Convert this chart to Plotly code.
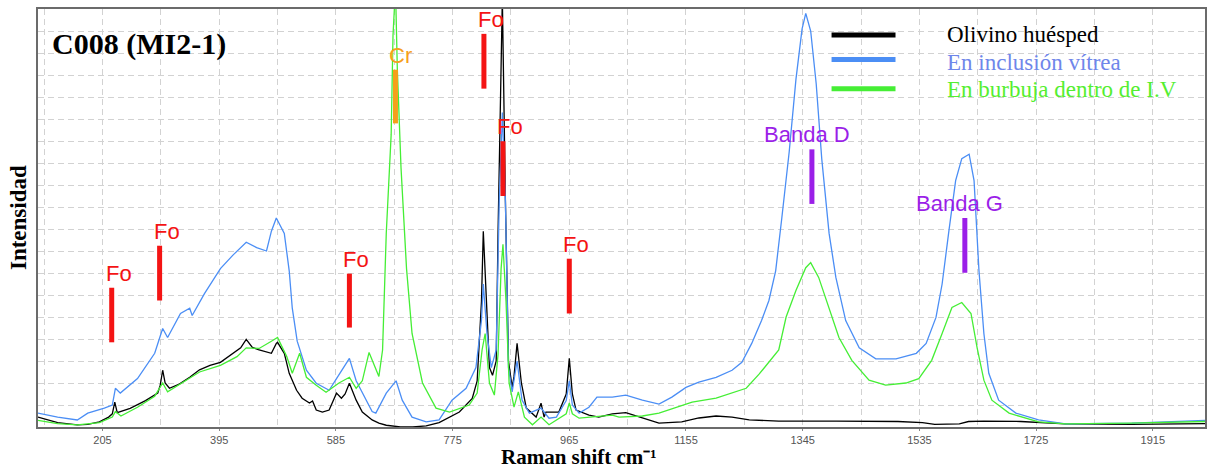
import plotly.graph_objects as go

# ---------------- data ----------------
wn_olivino = [100, 132, 164, 181, 200, 215, 221, 225, 229, 250, 275, 295, 299, 303, 307, 314, 330, 347,
              363, 380, 397, 417, 430, 439, 449, 460, 472, 480, 488, 490, 501, 509, 521, 530, 542, 547,
              553, 563, 574, 586, 594, 600, 607, 618, 628, 644, 655, 667, 690, 710, 732, 753, 786, 807,
              815, 822, 825, 830, 835, 840, 846, 849, 854, 856, 861, 866, 872, 875, 880, 887, 895, 911,
              919, 924, 927, 948, 960, 965, 970, 976, 997, 1013, 1035, 1046, 1057, 1084, 1111, 1148,
              1176, 1204, 1230, 1258, 1306, 1400, 1500, 1540, 1560, 1600, 1615, 1640, 1700, 1773, 1880, 2000]
int_olivino = [0.45, 0.2, 0.1, 0.12, 0.23, 0.45, 0.6, 1.13, 0.65, 0.85, 1.2, 1.54, 1.9, 2.58, 2.0, 1.76, 1.95, 2.26,
               2.6, 2.8, 2.94, 3.35, 3.6, 3.98, 3.62, 3.5, 3.39, 3.35, 3.8, 3.85, 3.35, 2.44, 1.67, 1.31, 1.09, 1.18,
               0.77, 0.68, 0.77, 1.54, 1.31, 1.5, 1.99, 1.22, 0.68, 0.32, 0.18, 0.08, 0.0, 0.0, 0.05, 0.2, 0.68, 1.3,
               2.1, 5.7, 8.9, 5.7, 2.7, 2.35, 3.0, 8.8, 16.3, 19.5, 10.3, 3.0, 1.8, 2.3, 3.8, 2.0, 0.86, 0.45,
               1.08, 0.45, 0.68, 0.68, 1.5, 3.12, 1.5, 0.77, 0.54, 0.45, 0.6, 0.63, 0.65, 0.41, 0.18, 0.23,
               0.41, 0.5, 0.45, 0.32, 0.27, 0.27, 0.25, 0.2, 0.12, 0.14, 0.25, 0.27, 0.25, 0.14, 0.12, 0.15]

wn_inclusion = [100, 132, 164, 181, 208, 221, 226, 234, 262, 290, 303, 311, 332, 347, 351, 371, 397, 417,
                439, 456, 472, 480, 488, 501, 509, 514, 522, 537, 553, 574, 586, 607, 618, 634, 644, 650,
                667, 683, 693, 709, 732, 753, 774, 797, 813, 822, 825, 831, 838, 846, 851, 856, 861, 866,
                872, 880, 888, 900, 919, 932, 944, 960, 965, 970, 981, 997, 1010, 1035, 1057, 1084, 1111,
                1132, 1155, 1176, 1204, 1230, 1246, 1262, 1278, 1290, 1301, 1311, 1323, 1334, 1344, 1350,
                1358, 1367, 1376, 1388, 1399, 1415, 1437, 1464, 1497, 1530, 1546, 1562, 1572, 1583, 1594,
                1604, 1616, 1624, 1632, 1640, 1648, 1664, 1692, 1729, 1773, 1881, 2000]
int_inclusion = [0.63, 0.45, 0.32, 0.63, 0.86, 1.0, 1.76, 1.54, 2.2, 3.35, 4.48, 4.07, 5.16, 5.4, 5.07, 6.06, 7.2, 7.8,
                 8.4, 8.15, 8.0, 8.9, 9.5, 8.8, 7.1, 5.4, 3.9, 2.58, 1.99, 1.67, 2.2, 3.12, 2.1, 1.22, 0.7, 0.63,
                 1.54, 2.1, 1.22, 0.45, 0.23, 0.32, 1.22, 1.76, 2.7, 4.84, 6.5, 4.25, 2.7, 3.5, 10.3, 14.3, 10.3, 2.7,
                 1.6, 3.0, 1.22, 0.63, 0.86, 0.4, 0.45, 1.2, 2.1, 1.0, 0.63, 0.9, 1.36, 1.36, 1.45, 1.22, 1.04,
                 1.36, 1.8, 2.04, 2.26, 2.58, 2.94, 3.8, 4.84, 5.75, 7.1, 9.5, 12.5, 15.8, 18.1, 18.8,
                 18.0, 15.6, 12.2, 8.8, 6.8, 4.84, 3.6, 3.1, 3.1, 3.35, 3.8, 4.98, 6.5, 8.9, 11.2,
                 12.2, 12.4, 11.2, 7.1, 4.25, 2.44, 1.22, 0.63, 0.32, 0.14, 0.18, 0.3]

wn_burbuja = [100, 132, 164, 200, 221, 226, 235, 262, 290, 303, 311, 347, 363, 397, 424, 439, 460, 480,
              490, 505, 514, 526, 537, 553, 569, 590, 607, 618, 628, 639, 655, 661, 667, 675, 678, 682,
              685, 691, 700, 709, 726, 748, 770, 802, 815, 823, 828, 835, 843, 849, 854, 857, 862, 867,
              875, 882, 892, 905, 919, 932, 944, 960, 965, 970, 981, 1035, 1046, 1084, 1111, 1139, 1165,
              1204, 1230, 1253, 1274, 1295, 1306, 1318, 1334, 1350, 1358, 1371, 1388, 1404, 1425, 1453,
              1480, 1513, 1534, 1555, 1572, 1588, 1604, 1619, 1629, 1640, 1653, 1681, 1729, 1773, 1880, 2000]
int_burbuja = [0.3, 0.15, 0.1, 0.2, 0.45, 0.7, 0.5, 0.9, 1.4, 2.0, 1.6, 2.2, 2.5, 2.8, 3.2, 3.6, 3.57, 3.9,
               4.07, 3.2, 2.44, 3.35, 2.26, 1.9, 1.58, 2.0, 2.26, 1.76, 2.1, 3.39, 2.3, 3.5, 8.8, 13.3, 17.8, 20.0,
               16.3, 11.8, 7.2, 4.25, 2.0, 0.86, 0.68, 1.0, 1.54, 3.5, 4.25, 2.0, 1.45, 3.3, 7.2, 8.3, 5.7, 2.0,
               0.9, 1.6, 0.45, 0.1, 0.45, 0.1, 0.3, 0.6, 1.09, 0.6, 0.4, 0.54, 0.45, 0.5, 0.63, 0.9, 1.13,
               1.31, 1.54, 1.76, 2.4, 3.1, 3.5, 5.0, 6.2, 7.24, 7.47, 6.8, 5.4, 4.07, 3.03, 2.13,
               1.9, 2.0, 2.2, 3.03, 4.25, 5.43, 5.66, 5.16, 3.6, 2.13, 1.22, 0.63, 0.23, 0.14, 0.18, 0.25]

series_names = ["Olivino huésped", "En inclusión vítrea", "En burbuja dentro de I.V"]

# band assignments: label, Raman shift, marker bar extent (intensity units)
band_labels = ["Fo", "Fo", "Fo", "Cr", "Fo", "Fo", "Fo", "Banda D", "Banda G"]
band_wn = [220, 298, 607, 682, 826, 857, 965, 1360, 1609]
band_low = [3.85, 5.75, 4.52, 13.8, 15.38, 10.5, 5.16, 10.14, 7.01]
band_high = [6.33, 8.24, 6.97, 16.24, 17.87, 12.99, 7.65, 12.62, 9.5]

x_tick_vals = [205, 395, 585, 775, 965, 1155, 1345, 1535, 1725, 1915]

# ---------------- styling ----------------
line_colors = ["#000000", "#4b8ef5", "#45ee35"]
text_colors = ["#000000", "#6f86ea", "#55ee30"]
band_colors = {"Fo": "#f41414", "Cr": "#f6a01a", "Banda D": "#9b1fe8", "Banda G": "#9b1fe8"}
serif = "Liberation Serif, Times New Roman, serif"
sans = "Liberation Sans, Arial, sans-serif"

fig = go.Figure()
data = [(wn_olivino, int_olivino), (wn_inclusion, int_inclusion), (wn_burbuja, int_burbuja)]
for (wn, it), name, col in zip(data, series_names, line_colors):
    fig.add_trace(go.Scatter(x=wn, y=it, mode="lines", name=name,
                             line=dict(color=col, width=1.3), showlegend=False))

# band marker bars + labels
for lab, wn, lo, hi in zip(band_labels, band_wn, band_low, band_high):
    c = band_colors[lab]
    fig.add_shape(type="line", xref="x", yref="y", x0=wn, x1=wn, y0=lo, y1=hi,
                  line=dict(color=c, width=5))
    wide = lab.startswith("Banda")
    fig.add_annotation(x=wn, y=hi, xref="x", yref="y", text=lab, showarrow=False,
                       xanchor="center" if wide else "left", yanchor="bottom",
                       xshift=-5 if wide else -8, yshift=0,
                       font=dict(family=sans, size=22, color=c))

# manual legend
leg_y = [0.938, 0.879, 0.8095]
leg_ty = [0.938, 0.872, 0.807]
for name, col, tcol, y, ty in zip(series_names, line_colors, text_colors, leg_y, leg_ty):
    fig.add_shape(type="line", xref="paper", yref="paper", x0=0.680, x1=0.7348, y0=y, y1=y,
                  line=dict(color=col, width=5))
    fig.add_annotation(x=0.7776, y=ty, xref="paper", yref="paper", text=name, showarrow=False,
                       xanchor="left", yanchor="middle", font=dict(family=serif, size=23, color=tcol))

# title inside plot
fig.add_annotation(x=0.0103, y=0.916, xref="paper", yref="paper", text="<b>C008 (MI2-1)</b>",
                   showarrow=False, xanchor="left", yanchor="middle",
                   font=dict(family=serif, size=30, color="#000000"))
# axis titles
fig.add_annotation(x=0.4636, y=-0.1024, xref="paper", yref="paper",
                   text="<b>Raman shift cm⁻¹</b>", showarrow=False, borderpad=0,
                   xanchor="center", yanchor="bottom", font=dict(family=serif, size=21, color="#000000"))
fig.add_annotation(x=-0.0171, y=0.5, xref="paper", yref="paper", text="<b>Intensidad</b>",
                   showarrow=False, textangle=-90, xanchor="center", yanchor="middle",
                   font=dict(family=serif, size=23, color="#000000"))

grid = dict(showgrid=True, gridcolor="#d2d2d2", gridwidth=1, griddash="6px,4px")
fig.update_xaxes(range=[100, 2000], tickmode="array", tickvals=x_tick_vals,
                 ticks="outside", ticklen=2, tickcolor="#888888",
                 tickfont=dict(family=sans, size=11, color="#555555"),
                 showline=True, mirror=True, linecolor="#6b6b6b", linewidth=1.5,
                 minor=dict(tickmode="linear", tick0=110, dtick=95, showgrid=True,
                            gridcolor="#d2d2d2", griddash="6px,4px", ticks=""),
                 zeroline=False, **grid)
fig.update_yaxes(range=[0, 19], tick0=0, dtick=1, showticklabels=False, ticks="",
                 showline=True, mirror=True, linecolor="#6b6b6b", linewidth=1.5,
                 zeroline=False, **grid)
fig.update_layout(width=1214, height=470, margin=dict(l=38, r=7, t=7, b=43),
                  paper_bgcolor="white", plot_bgcolor="white", showlegend=False)

fig.write_html("out.html")
